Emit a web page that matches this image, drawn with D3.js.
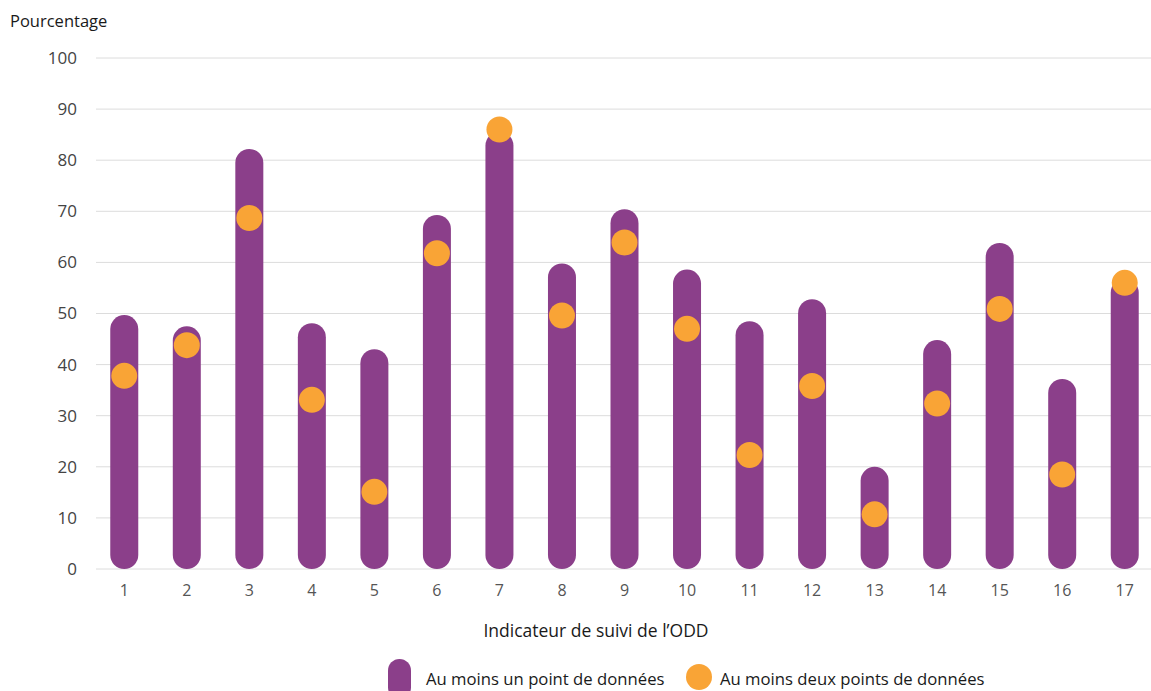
<!DOCTYPE html>
<html>
<head>
<meta charset="utf-8">
<script src="https://cdn.jsdelivr.net/npm/d3@7"></script>
<style>
  body { margin: 0; background: #fff; }
  text { font-family: "Open Sans", "Noto Sans", sans-serif; }
</style>
</head>
<body>
<svg id="chart" width="1151" height="691"></svg>
<script>
const indicators = ["1","2","3","4","5","6","7","8","9","10","11","12","13","14","15","16","17"]
const atLeastOne = [49.7, 47.5, 82.2, 48.1, 43.0, 69.3, 85.6, 59.8, 70.4, 58.6, 48.5, 52.8, 20.0, 44.8, 63.8, 37.2, 56.8]
const atLeastTwo = [37.8, 43.8, 68.7, 33.1, 15.1, 61.8, 86.0, 49.6, 63.9, 47.0, 22.3, 35.8, 10.7, 32.4, 50.9, 18.5, 56.0]
const yTicks = [0, 10, 20, 30, 40, 50, 60, 70, 80, 90, 100]

const purple = "#8b3f8a"
const orange = "#f9a436"

const svg = d3.select("#chart")

const x = d3.scaleBand()
    .domain(indicators)
    .range([93, 1156])
    .padding(0)

const y = d3.scaleLinear()
    .domain([0, 100])
    .range([569, 58])

const barW = 28

// grid
svg.append("g")
    .selectAll("line")
    .data(yTicks)
    .enter().append("line")
      .attr("x1", 96)
      .attr("x2", 1151)
      .attr("y1", d => y(d))
      .attr("y2", d => y(d))
      .attr("stroke", "#dcdcdc")
      .attr("stroke-width", 1)

const yAxis = svg.append("g")
    .attr("transform", "translate(77,0)")
    .call(d3.axisLeft(y).tickValues(yTicks).tickSize(0).tickPadding(0))
yAxis.select(".domain").remove()
yAxis.selectAll("text")
    .attr("font-size", 17)
    .attr("fill", "#444")
    .attr("font-family", "'Open Sans', sans-serif")

const xAxis = svg.append("g")
    .attr("transform", "translate(0,580)")
    .call(d3.axisBottom(x).tickSize(0).tickPadding(5))
xAxis.select(".domain").remove()
xAxis.selectAll("text")
    .attr("font-size", 16)
    .attr("fill", "#555")
    .attr("font-family", "'Open Sans', sans-serif")

// bars
svg.append("g")
    .selectAll("rect")
    .data(atLeastOne)
    .enter().append("rect")
      .attr("x", (d, i) => x(indicators[i]) + x.bandwidth() / 2 - barW / 2)
      .attr("y", d => y(d))
      .attr("width", barW)
      .attr("height", d => y(0) - y(d))
      .attr("rx", barW / 2)
      .attr("fill", purple)

// dots
svg.append("g")
    .selectAll("circle")
    .data(atLeastTwo)
    .enter().append("circle")
      .attr("cx", (d, i) => x(indicators[i]) + x.bandwidth() / 2)
      .attr("cy", d => y(d))
      .attr("r", 13)
      .attr("fill", orange)

svg.append("text")
    .attr("x", 10)
    .attr("y", 27)
    .attr("font-size", 16.5)
    .attr("fill", "#1a1a1a")
    .text("Pourcentage")

svg.append("text")
    .attr("x", 596)
    .attr("y", 637)
    .attr("text-anchor", "middle")
    .attr("font-size", 17.5)
    .attr("fill", "#1a1a1a")
    .text("Indicateur de suivi de l’ODD")

// legend
const legend = svg.append("g")
legend.append("rect")
    .attr("x", 388).attr("y", 659)
    .attr("width", 23).attr("height", 40)
    .attr("rx", 11.5)
    .attr("fill", purple)
legend.append("text")
    .attr("x", 426).attr("y", 685)
    .attr("font-size", 16.7).attr("fill", "#1a1a1a")
    .text("Au moins un point de données")
legend.append("circle")
    .attr("cx", 699).attr("cy", 677)
    .attr("r", 13)
    .attr("fill", orange)
legend.append("text")
    .attr("x", 720).attr("y", 685)
    .attr("font-size", 16.7).attr("fill", "#1a1a1a")
    .text("Au moins deux points de données")
</script>
</body>
</html>
